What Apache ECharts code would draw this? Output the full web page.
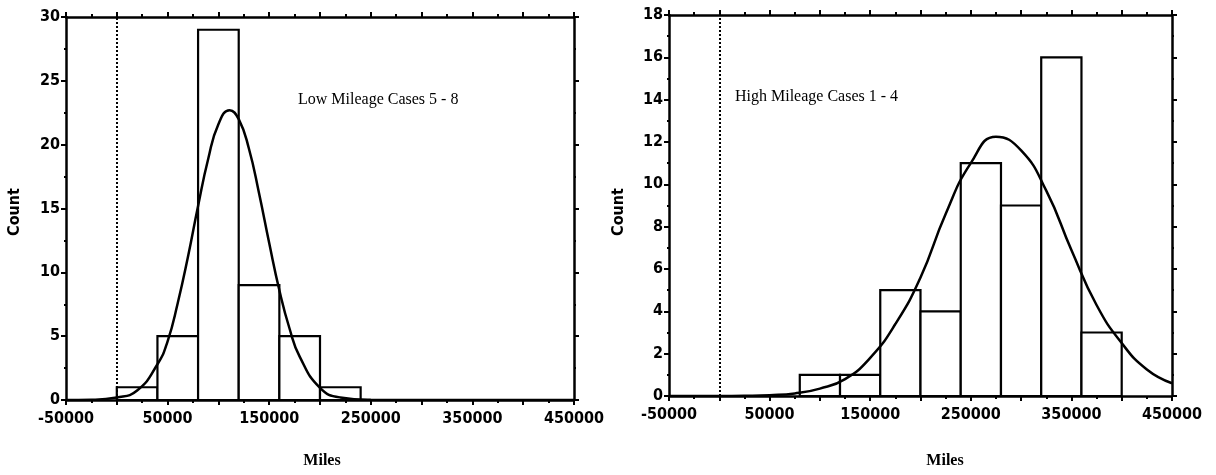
<!DOCTYPE html>
<html>
<head>
<meta charset="utf-8">
<script src="https://cdn.jsdelivr.net/npm/echarts@6/dist/echarts.min.js"></script>
<style>
  html, body { margin: 0; padding: 0; background: #fff; }
  #chart { width: 1216px; height: 475px; }
</style>
</head>
<body>
<div id="chart"></div>
<script>
// Mileage histograms (40,000-mile bins) with fitted normal curves
const binWidth = 40000;

const lowBinStart = [0, 40000, 80000, 120000, 160000, 200000];
const lowCounts   = [1, 5, 29, 9, 5, 1];

const highBinStart = [80000, 120000, 160000, 200000, 240000, 280000, 320000, 360000];
const highCounts   = [1, 1, 5, 4, 11, 9, 16, 3];

// fitted curve, sampled along the mileage axis
const lowCurveMiles = [-50000, -25000, 0, 20000, 40000, 50000, 60000, 70000, 80000, 90000, 100000,
  111000, 120000, 130000, 140000, 150000, 160000, 170000, 180000, 200000, 220000, 250000, 300000, 450000];
const lowCurveCount = [0, 0.02, 0.2, 0.75, 2.8, 4.6, 7.6, 11.2, 15.2, 18.9, 21.6,
  22.7, 22.0, 19.7, 16.2, 12.3, 8.6, 5.6, 3.4, 0.95, 0.2, 0.02, 0, 0];

const highCurveMiles = [-50000, -25000, 0, 25000, 50000, 75000, 100000, 125000, 150000, 175000, 200000,
  225000, 250000, 275000, 300000, 325000, 350000, 375000, 400000, 425000, 450000];
const highCurveCount = [0, 0, 0, 0.01, 0.04, 0.12, 0.35, 0.8, 1.8, 3.4, 5.6,
  8.6, 11.0, 12.25, 11.6, 9.7, 6.9, 4.3, 2.5, 1.25, 0.6];

const xTickLabels = ['-50000', '50000', '150000', '250000', '350000', '450000'];
const xMin = -50000, xMax = 450000, xStep = 50000;

const lowYMax = 30, lowYStep = 5;
const highYMax = 18, highYStep = 2;

const lowTitle = 'Low Mileage Cases 5 - 8';
const highTitle = 'High Mileage Cases 1 - 4';
const xName = 'Miles';
const yName = 'Count';

const numFont = '"DejaVu Sans Condensed", "Liberation Sans Narrow", "Liberation Sans", sans-serif';
const serifFont = '"Liberation Serif", "DejaVu Serif", serif';

function bins(starts, counts) {
  return starts.map((s, i) => [s, s + binWidth, counts[i]]);
}
function pairs(xs, ys) {
  return xs.map((x, i) => [x, ys[i]]);
}

const axisLineStyle = { color: '#000', width: 2.5 };

function xAxisFor(gridIndex, position) {
  const bottom = position === 'bottom';
  return {
    type: 'value', gridIndex, position,
    min: xMin, max: xMax, interval: xStep,
    axisLine: { show: true, onZero: false, lineStyle: axisLineStyle },
    axisTick: { show: true, length: 5, lineStyle: { color: '#000', width: 2 } },
    minorTick: { show: true, splitNumber: 2, length: 3, lineStyle: { color: '#000', width: 2 } },
    splitLine: { show: false },
    axisLabel: {
      show: bottom, margin: 11, color: '#000', fontFamily: numFont, fontWeight: 'bold', fontSize: 16,
      showMinLabel: true, showMaxLabel: true, hideOverlap: false,
      formatter: v => xTickLabels.includes(String(v)) ? String(v) : ''
    }
  };
}

function yAxisFor(gridIndex, position, max, step) {
  const left = position === 'left';
  return {
    type: 'value', gridIndex, position,
    min: 0, max, interval: step,
    axisLine: { show: true, onZero: false, lineStyle: axisLineStyle },
    axisTick: { show: true, length: 5, lineStyle: { color: '#000', width: 2 } },
    minorTick: { show: true, splitNumber: 2, length: 2, lineStyle: { color: '#000', width: 2 } },
    splitLine: { show: false },
    axisLabel: {
      show: left, margin: 6, color: '#000', fontFamily: numFont, fontWeight: 'bold', fontSize: 16
    }
  };
}

function renderBin(params, api) {
  const p0 = api.coord([api.value(0), api.value(2)]);
  const p1 = api.coord([api.value(1), 0]);
  return {
    type: 'rect',
    shape: { x: p0[0], y: p0[1], width: p1[0] - p0[0], height: p1[1] - p0[1] },
    style: { fill: '#fff', stroke: '#000', lineWidth: 2.2 }
  };
}

function histSeries(axisIndex, data) {
  return {
    type: 'custom', xAxisIndex: axisIndex * 2, yAxisIndex: axisIndex * 2,
    renderItem: renderBin, data, encode: { x: [0, 1], y: 2 }, z: 2, silent: true
  };
}

function curveSeries(axisIndex, data) {
  return {
    type: 'line', xAxisIndex: axisIndex * 2, yAxisIndex: axisIndex * 2,
    data, smooth: 0.5, showSymbol: false, z: 4, silent: true,
    lineStyle: { color: '#000', width: 2.5 },
    markLine: {
      silent: true, symbol: ['none', 'none'], label: { show: false },
      lineStyle: { color: '#000', type: 'dotted', width: 2 },
      data: [{ xAxis: 0 }]
    }
  };
}

const chart = echarts.init(document.getElementById('chart'), null, { renderer: 'canvas' });
chart.setOption({
  backgroundColor: '#fff',
  animation: false,
  grid: [
    { left: 66, right: 642, top: 17, bottom: 75 },
    { left: 669, right: 44, top: 15, bottom: 79 }
  ],
  xAxis: [
    xAxisFor(0, 'bottom'), xAxisFor(0, 'top'),
    xAxisFor(1, 'bottom'), xAxisFor(1, 'top')
  ],
  yAxis: [
    yAxisFor(0, 'left', lowYMax, lowYStep), yAxisFor(0, 'right', lowYMax, lowYStep),
    yAxisFor(1, 'left', highYMax, highYStep), yAxisFor(1, 'right', highYMax, highYStep)
  ],
  series: [
    histSeries(0, bins(lowBinStart, lowCounts)),
    curveSeries(0, pairs(lowCurveMiles, lowCurveCount)),
    histSeries(1, bins(highBinStart, highCounts)),
    curveSeries(1, pairs(highCurveMiles, highCurveCount))
  ],
  graphic: [
    { type: 'text', x: 298, y: 100, style: { text: lowTitle, font: '16px ' + serifFont, fill: '#000', verticalAlign: 'middle' } },
    { type: 'text', x: 735, y: 97, style: { text: highTitle, font: '16px ' + serifFont, fill: '#000', verticalAlign: 'middle' } },
    { type: 'text', x: 322, y: 461, style: { text: xName, font: 'bold 16px ' + serifFont, fill: '#000', align: 'center', verticalAlign: 'middle' } },
    { type: 'text', x: 945, y: 461, style: { text: xName, font: 'bold 16px ' + serifFont, fill: '#000', align: 'center', verticalAlign: 'middle' } },
    { type: 'text', x: 15, y: 212, rotation: Math.PI / 2, style: { text: yName, font: 'bold 16px ' + numFont, fill: '#000', align: 'center', verticalAlign: 'middle' } },
    { type: 'text', x: 619, y: 212, rotation: Math.PI / 2, style: { text: yName, font: 'bold 16px ' + numFont, fill: '#000', align: 'center', verticalAlign: 'middle' } }
  ]
});
</script>
</body>
</html>
